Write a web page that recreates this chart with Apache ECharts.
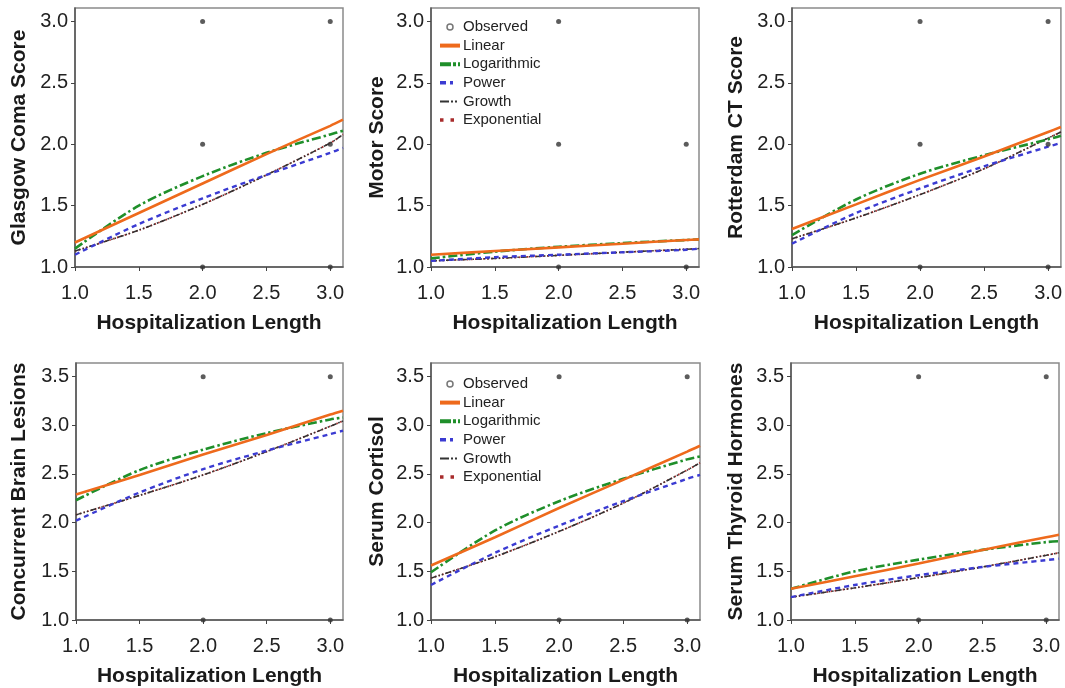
<!DOCTYPE html>
<html>
<head>
<meta charset="utf-8">
<script src="https://cdn.jsdelivr.net/npm/echarts@6/dist/echarts.min.js"></script>
<style>
  html, body { margin: 0; padding: 0; background: #fff; }
  #chart { width: 1065px; height: 688px; }
</style>
</head>
<body>
<div id="chart"></div>
<script>
const xFit = [1.0, 1.5, 2.0, 2.5, 3.0, 3.1];
const xTicks = [1.0, 1.5, 2.0, 2.5, 3.0];
const yTicksTop = [1.0, 1.5, 2.0, 2.5, 3.0];
const yTicksBottom = [1.0, 1.5, 2.0, 2.5, 3.0, 3.5];

const panelNames = ['Glasgow Coma Score', 'Motor Score', 'Rotterdam CT Score',
  'Concurrent Brain Lesions', 'Serum Cortisol', 'Serum Thyroid Hormones'];
const xName = 'Hospitalization Length';
const modelNames = ['Observed', 'Linear', 'Logarithmic', 'Power', 'Growth', 'Exponential'];

// observed points
const glasgowObs = [[2, 3], [3, 3], [2, 2], [3, 2], [2, 1], [3, 1]];
const motorObs = [[2, 3], [2, 2], [3, 2], [2, 1], [3, 1]];
const rotterdamObs = [[2, 3], [3, 3], [2, 2], [3, 2], [2, 1], [3, 1]];
const lesionsObs = [[2, 3.5], [3, 3.5], [2, 1], [3, 1]];
const cortisolObs = [[2, 3.5], [3, 3.5], [2, 1], [3, 1]];
const thyroidObs = [[2, 3.5], [3, 3.5], [2, 1], [3, 1]];

// fitted curves (values at xFit)
const glasgowLinear = [1.20, 1.44, 1.68, 1.92, 2.15, 2.20];
const glasgowLog = [1.15, 1.50, 1.74, 1.93, 2.08, 2.11];
const glasgowPower = [1.10, 1.35, 1.56, 1.75, 1.93, 1.97];
const glasgowGrowth = [1.13, 1.30, 1.51, 1.75, 2.01, 2.08];
const glasgowExp = [1.13, 1.30, 1.51, 1.75, 2.01, 2.08];

const motorLinear = [1.10, 1.13, 1.16, 1.19, 1.22, 1.225];
const motorLog = [1.07, 1.125, 1.165, 1.195, 1.22, 1.225];
const motorPower = [1.05, 1.08, 1.10, 1.12, 1.14, 1.15];
const motorGrowth = [1.05, 1.07, 1.095, 1.12, 1.145, 1.15];
const motorExp = [1.05, 1.07, 1.095, 1.12, 1.145, 1.15];

const rotterdamLinear = [1.31, 1.51, 1.71, 1.90, 2.10, 2.14];
const rotterdamLog = [1.26, 1.55, 1.76, 1.91, 2.04, 2.07];
const rotterdamPower = [1.19, 1.44, 1.64, 1.82, 1.98, 2.01];
const rotterdamGrowth = [1.23, 1.40, 1.59, 1.80, 2.05, 2.10];
const rotterdamExp = [1.23, 1.40, 1.59, 1.80, 2.05, 2.10];

const lesionsLinear = [2.29, 2.49, 2.70, 2.90, 3.11, 3.15];
const lesionsLog = [2.23, 2.54, 2.75, 2.92, 3.06, 3.08];
const lesionsPower = [2.02, 2.31, 2.55, 2.74, 2.91, 2.945];
const lesionsGrowth = [2.08, 2.28, 2.49, 2.73, 2.99, 3.045];
const lesionsExp = [2.08, 2.28, 2.49, 2.73, 2.99, 3.045];

const cortisolLinear = [1.56, 1.85, 2.15, 2.44, 2.73, 2.79];
const cortisolLog = [1.49, 1.92, 2.22, 2.45, 2.65, 2.68];
const cortisolPower = [1.36, 1.69, 1.97, 2.22, 2.45, 2.49];
const cortisolGrowth = [1.43, 1.65, 1.91, 2.20, 2.54, 2.615];
const cortisolExp = [1.43, 1.65, 1.91, 2.20, 2.54, 2.615];

const thyroidLinear = [1.32, 1.45, 1.58, 1.72, 1.85, 1.875];
const thyroidLog = [1.32, 1.50, 1.62, 1.72, 1.80, 1.81];
const thyroidPower = [1.235, 1.36, 1.46, 1.545, 1.615, 1.63];
const thyroidGrowth = [1.235, 1.33, 1.435, 1.545, 1.665, 1.69];
const thyroidExp = [1.235, 1.33, 1.435, 1.545, 1.665, 1.69];

const panels = [
  { obs: glasgowObs, fits: [glasgowLinear, glasgowLog, glasgowPower, glasgowGrowth, glasgowExp], yTicks: yTicksTop },
  { obs: motorObs, fits: [motorLinear, motorLog, motorPower, motorGrowth, motorExp], yTicks: yTicksTop },
  { obs: rotterdamObs, fits: [rotterdamLinear, rotterdamLog, rotterdamPower, rotterdamGrowth, rotterdamExp], yTicks: yTicksTop },
  { obs: lesionsObs, fits: [lesionsLinear, lesionsLog, lesionsPower, lesionsGrowth, lesionsExp], yTicks: yTicksBottom },
  { obs: cortisolObs, fits: [cortisolLinear, cortisolLog, cortisolPower, cortisolGrowth, cortisolExp], yTicks: yTicksBottom },
  { obs: thyroidObs, fits: [thyroidLinear, thyroidLog, thyroidPower, thyroidGrowth, thyroidExp], yTicks: yTicksBottom }
];

// layout
const grids = [
  { left: 75, top: 8, width: 268, height: 259 },
  { left: 431, top: 8, width: 268, height: 259 },
  { left: 792, top: 8, width: 270, height: 259 },
  { left: 76, top: 363, width: 267, height: 260 },
  { left: 431, top: 363, width: 269, height: 260 },
  { left: 791, top: 363, width: 268, height: 260 }
];
const yMax = [3.11, 3.11, 3.11, 3.64, 3.64, 3.64];
const yGap = [45, 43, 45, 46, 43, 44];

const font = '"Liberation Sans", Arial, Helvetica, sans-serif';

const lineStyles = [
  { color: '#ee6a1c', width: 2.6, type: 'solid' },
  { color: '#1f8f2a', width: 2.6, type: [9, 3, 2.5, 3] },
  { color: '#3b3bd2', width: 2.4, type: [5, 4] },
  { color: '#333333', width: 1.5, type: [6, 2, 1.5, 2, 1.5, 2] },
  { color: '#a82c2c', width: 1.8, type: [1.5, 2.5] }
];
// legend icons are drawn a bit bolder than the curves
const legendLines = [
  { width: 4 },
  { width: 4, type: [11, 2, 3, 2] },
  { width: 3.5, type: [6, 4, 3, 10] },
  { width: 2, type: [9, 2, 2, 2, 2, 5] },
  { width: 3.5, type: [3.5, 7] }
];

const fmt = v => (Math.abs(v * 2 - Math.round(v * 2)) < 1e-6 ? v.toFixed(1) : '');

const xAxes = [], yAxes = [], series = [];
panels.forEach((p, i) => {
  xAxes.push({
    gridIndex: i, type: 'value', min: 1, max: 3.1, interval: 0.5,
    name: xName, nameLocation: 'middle', nameGap: 46,
    nameTextStyle: { fontFamily: font, fontSize: 21, fontWeight: 'bold', color: '#1a1a1a' },
    axisLine: { show: true, lineStyle: { color: '#555', width: 1.5 } },
    axisTick: { show: true, length: 4, customValues: xTicks, lineStyle: { color: '#444' } },
    axisLabel: { customValues: xTicks, formatter: fmt, margin: 16, fontFamily: font, fontSize: 20, color: '#222' },
    splitLine: { show: false }
  });
  yAxes.push({
    gridIndex: i, type: 'value', min: 1, max: yMax[i], interval: 0.5,
    name: panelNames[i], nameLocation: 'middle', nameGap: yGap[i],
    nameTextStyle: { fontFamily: font, fontSize: 21, fontWeight: 'bold', color: '#1a1a1a' },
    axisLine: { show: true, lineStyle: { color: '#555', width: 1.5 } },
    axisTick: { show: true, length: 4, customValues: p.yTicks, lineStyle: { color: '#444' } },
    axisLabel: { customValues: p.yTicks, formatter: fmt, margin: 7, fontFamily: font, fontSize: 20, color: '#222' },
    splitLine: { show: false }
  });
  series.push({
    name: 'Observed', type: 'scatter', xAxisIndex: i, yAxisIndex: i,
    data: p.obs, symbolSize: 5, itemStyle: { color: '#333' }, z: 5, clip: false
  });
  // draw exponential first so growth sits on top
  [4, 3, 2, 1, 0].forEach(k => {
    series.push({
      name: modelNames[k + 1], type: 'line', xAxisIndex: i, yAxisIndex: i,
      data: xFit.map((x, j) => [x, p.fits[k][j]]),
      smooth: 0.3, symbol: 'none',
      lineStyle: lineStyles[k], itemStyle: { color: lineStyles[k].color },
      z: 3
    });
  });
});

const legendData = [
  { name: 'Observed', icon: 'circle', itemStyle: { color: '#fff', borderColor: '#555', borderWidth: 1.5 } }
].concat(modelNames.slice(1).map((n, k) => ({
  name: n,
  itemStyle: { opacity: 0 },
  lineStyle: legendLines[k]
})));

const legendBase = {
  orient: 'vertical', padding: 0, itemWidth: 20, itemHeight: 6, itemGap: 2.6,
  textStyle: { fontFamily: font, fontSize: 15, color: '#222', lineHeight: 16, padding: [0, 0, 0, -2] },
  selectedMode: false, data: legendData
};

const chart = echarts.init(document.getElementById('chart'));
chart.setOption({
  backgroundColor: '#fff',
  animation: false,
  grid: grids.map(g => Object.assign({ show: true, borderColor: '#8a8a8a', borderWidth: 1.5, containLabel: false }, g)),
  xAxis: xAxes,
  yAxis: yAxes,
  legend: [
    Object.assign({ left: 438, top: 19 }, legendBase),
    Object.assign({ left: 438, top: 376 }, legendBase)
  ],
  series: series
});
</script>
</body>
</html>
